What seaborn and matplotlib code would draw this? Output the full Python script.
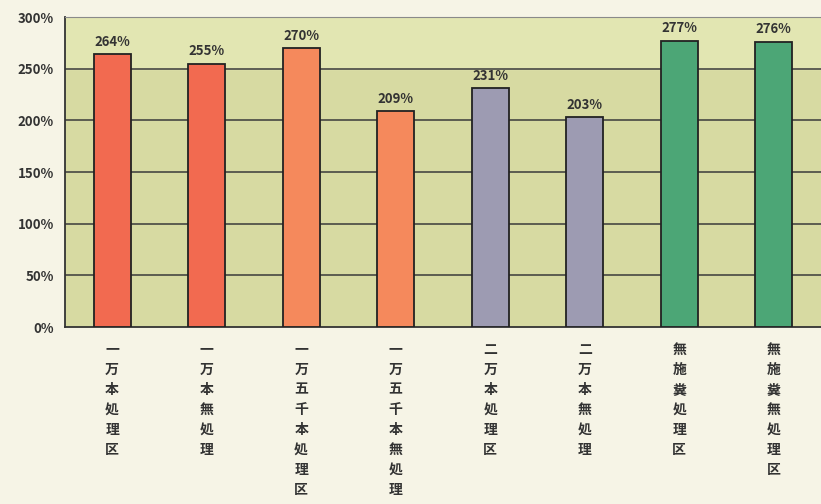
import matplotlib
matplotlib.use("Agg")
import matplotlib.pyplot as plt
import pandas as pd
import seaborn as sns

# data
categories = ["一万本処理区", "一万本無処理", "一万五千本処理区", "一万五千本無処理",
              "二万本処理区", "二万本無処理", "無施糞処理区", "無施糞無処理区"]
values = [264, 255, 270, 209, 231, 203, 277, 276]
bar_colors = ["#f26a50", "#f26a50", "#f5895c", "#f5895c",
              "#9d9bb2", "#9d9bb2", "#4ca676", "#4ca676"]
y_ticks = [0, 50, 100, 150, 200, 250, 300]

sns.set_style("white")
plt.rcParams["font.family"] = ["Noto Sans CJK JP", "DejaVu Sans"]

df = pd.DataFrame({"cat": categories, "val": values})

fig = plt.figure(figsize=(8.21, 5.04), dpi=100)
fig.patch.set_facecolor("#f6f4e6")
ax = fig.add_axes([0.079, 0.351, 0.921, 0.615])
ax.set_facecolor("#d7daa2")

sns.barplot(data=df, x="cat", y="val", hue="cat", palette=bar_colors,
            legend=False, width=0.39, edgecolor="#222222", linewidth=1.3,
            saturation=1, ax=ax, zorder=3)

# lighter band above the 250 line
ax.axhspan(250, 300, color="#e2e6b2", zorder=0)

ax.set_ylim(0, 300)
ax.set_xlim(-0.5, 7.5)
ax.set_yticks(y_ticks)
ax.set_yticklabels([f"{t}%" for t in y_ticks], fontsize=9.5, fontweight="bold", color="#333333")
for t in y_ticks[1:-1]:
    ax.axhline(t, color="#3a3a3a", lw=1.1, zorder=1)

ax.tick_params(axis="y", length=0, pad=8)
ax.set_xticks([])
ax.set_xticks([i + 0.5 for i in range(7)], minor=True)
ax.tick_params(axis="x", which="minor", direction="in", length=4, color="#333333")

for s in ["left", "bottom"]:
    ax.spines[s].set_color("#333333")
    ax.spines[s].set_linewidth(1.3)
ax.spines["top"].set_color("#8a8a8a")
ax.spines["right"].set_visible(False)

# value labels above the bars
for cont in ax.containers:
    ax.bar_label(cont, labels=[f"{int(v.get_height())}%" for v in cont],
                 padding=4, fontsize=9.5, fontweight="bold", color="#333333")

# vertical category labels, one character per line
for i, c in enumerate(categories):
    ax.text(i, -0.05, "\n".join(c), transform=ax.get_xaxis_transform(),
            ha="center", va="top", fontsize=10, fontweight="bold",
            color="#333333", linespacing=1.55)

ax.set_xlabel("")
ax.set_ylabel("")

fig.savefig("out.png", dpi=100, facecolor=fig.get_facecolor())
